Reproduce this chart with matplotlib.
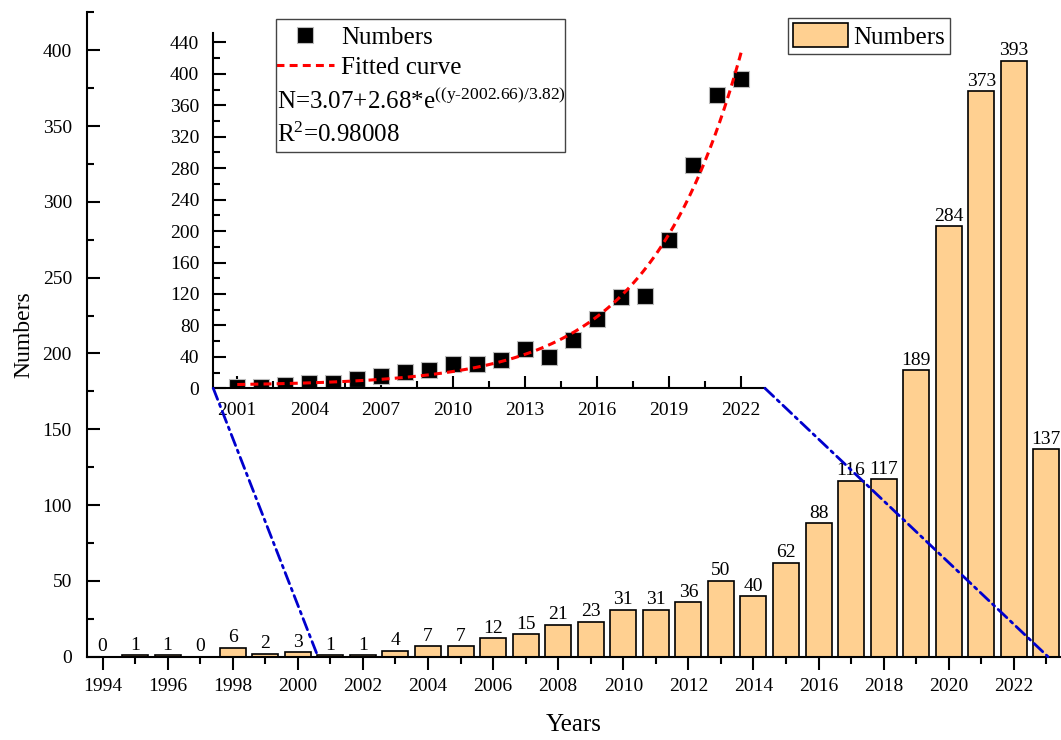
import numpy as np
import matplotlib
matplotlib.use("Agg")
import matplotlib.pyplot as plt
from matplotlib.ticker import MultipleLocator
from matplotlib.patches import ConnectionPatch, Rectangle

plt.rcParams['font.family'] = ['Liberation Serif', 'DejaVu Serif']
plt.rcParams['mathtext.fontset'] = 'custom'
plt.rcParams['mathtext.rm'] = 'Liberation Serif'
plt.rcParams['mathtext.it'] = 'Liberation Serif:italic'

years = [1994, 1995, 1996, 1997, 1998, 1999, 2000, 2001, 2002, 2003, 2004, 2005, 2006, 2007, 2008,
         2009, 2010, 2011, 2012, 2013, 2014, 2015, 2016, 2017, 2018, 2019, 2020, 2021, 2022, 2023]
numbers = [0, 1, 1, 0, 6, 2, 3, 1, 1, 4, 7, 7, 12, 15, 21,
           23, 31, 31, 36, 50, 40, 62, 88, 116, 117, 189, 284, 373, 393, 137]

# inset: 2001-2022 only
inset_years = years[7:29]
inset_numbers = numbers[7:29]

# fit parameters as printed on the chart
fit_a = 3.07
fit_b = 2.68
fit_y0 = 2002.66
fit_t = 3.82
fit_r2 = 0.98008

bar_color = '#FFD091'

fig = plt.figure(figsize=(10.61, 7.40), dpi=100)
ax = fig.add_axes([0.0822, 0.1126, 0.9178, 0.8708])

bars = ax.bar(years, numbers, width=0.8, color=bar_color, edgecolor='black', linewidth=1.2, label='Numbers')
ax.bar_label(bars, labels=[str(v) for v in numbers], padding=1, fontsize=14)

ax.set_xlim(1993.53, 2023.45)
ax.set_ylim(0, 425)
ax.spines['top'].set_visible(False)
ax.spines['right'].set_visible(False)
ax.spines['left'].set_linewidth(1.5)
ax.spines['bottom'].set_linewidth(1.5)
ax.xaxis.set_major_locator(MultipleLocator(2))
ax.xaxis.set_minor_locator(MultipleLocator(1))
ax.yaxis.set_major_locator(MultipleLocator(50))
ax.yaxis.set_minor_locator(MultipleLocator(25))
ax.tick_params(axis='x', which='major', direction='out', length=9, width=1.5, pad=6, labelsize=14)
ax.tick_params(axis='x', which='minor', direction='out', length=5, width=1.5)
ax.tick_params(axis='y', which='major', direction='in', length=9, width=1.5, pad=11, labelsize=14)
ax.tick_params(axis='y', which='minor', direction='in', length=5, width=1.5)
ax.set_xlabel('Years', fontsize=18, labelpad=14)
ax.set_ylabel('Numbers', fontsize=17, labelpad=6)

leg = ax.legend(loc='upper left', bbox_to_anchor=(788 / 1061, 1 - 18 / 740), bbox_transform=fig.transFigure,
                fontsize=18, fancybox=False, edgecolor='#444444', framealpha=1, borderpad=0.2,
                borderaxespad=0, handlelength=2.2, handleheight=1.1, handletextpad=0.2)
leg.get_frame().set_linewidth(1.0)

# inset
ins = fig.add_axes([0.2010, 0.4753, 0.5200, 0.4801])
ins.set_facecolor('none')
ins.plot(inset_years, inset_numbers, 's', color='black', markersize=11, markeredgecolor='#bbbbbb',
         markeredgewidth=0.8, zorder=2, label='Numbers')
xf = np.linspace(2001, 2022.05, 200)
yf = fit_a + fit_b * np.exp((xf - fit_y0) / fit_t)
ins.plot(xf, yf, color='red', linewidth=2.2, linestyle=(0, (2.6, 1.7)), zorder=3, label='Fitted curve')
ins.set_xlim(2000, 2023)
ins.set_ylim(0, 452)
ins.spines['top'].set_visible(False)
ins.spines['right'].set_visible(False)
ins.spines['left'].set_linewidth(1.5)
ins.spines['bottom'].set_linewidth(1.5)
ins.set_xticks([2001, 2004, 2007, 2010, 2013, 2016, 2019, 2022])
ins.set_xticks([2002.5, 2005.5, 2008.5, 2011.5, 2014.5, 2017.5, 2020.5], minor=True)
ins.yaxis.set_major_locator(MultipleLocator(40))
ins.yaxis.set_minor_locator(MultipleLocator(20))
ins.tick_params(which='major', direction='in', length=9, width=1.5, pad=10, labelsize=14)
ins.tick_params(which='minor', direction='in', length=5, width=1.5)

ileg = ins.legend(loc='upper left', bbox_to_anchor=(276 / 1061, 1 - 26 / 740), bbox_transform=fig.transFigure,
                  fontsize=18, frameon=False, borderpad=0, borderaxespad=0, handlelength=2.3,
                  handletextpad=0.3, labelspacing=0.3)
fig.text(277 / 1061, 1 - 100 / 740, r'N=3.07+2.68*e$^{\text{((y-2002.66)/3.82)}}$', fontsize=18, va='center', ha='left')
fig.text(277 / 1061, 1 - 135 / 740, 'R$^2$=' + str(fit_r2), fontsize=18, va='center', ha='left')
box = Rectangle((275.7 / 1061, 1 - 151.7 / 740), (565 - 275.7) / 1061, (151.7 - 19.3) / 740,
                transform=fig.transFigure, fill=False, edgecolor='#444444', linewidth=1.0)
fig.add_artist(box)

# zoom lines from the inset down to the main axis
for xa, xb in [(2000, 2000.62), (2023, 2023.05)]:
    con = ConnectionPatch(xyA=(xa, 0), coordsA=ins.transData, xyB=(xb, 0), coordsB=ax.transData,
                          color='#0000CD', linewidth=2, linestyle=(0, (4.3, 1.8, 1, 1.8)), zorder=5)
    fig.add_artist(con)

fig.savefig('out.png', dpi=100)
